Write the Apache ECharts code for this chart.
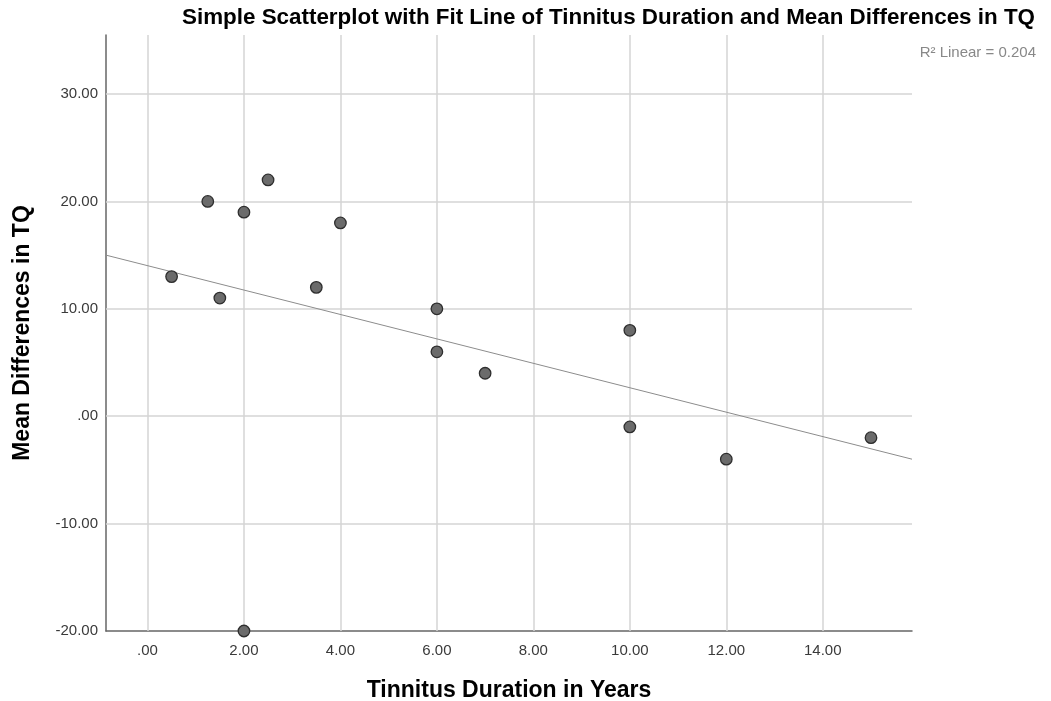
<!DOCTYPE html>
<html><head><meta charset="utf-8">
<script src="https://cdn.jsdelivr.net/npm/echarts@6/dist/echarts.min.js"></script>
<style>html,body{margin:0;padding:0;background:#fff}#c{width:1051px;height:701px}</style>
</head><body><div id="c"></div>
<script>
const durationYears = [0.5, 1.25, 1.5, 2, 2.5, 2, 3.5, 4, 6, 6, 7, 10, 10, 12, 15];
const meanDiffTQ   = [13, 20, 11, 19, 22, -20, 12, 18, 10, 6, 4, 8, -1, -4, -2];
const fitLineX = [-0.86, 15.85];
const fitLineY = [15.0, -4.0];
const xTicks = [0, 2, 4, 6, 8, 10, 12, 14];
const yTicks = [-20, -10, 0, 10, 20, 30];
const titleText = 'Simple Scatterplot with Fit Line of Tinnitus Duration and Mean Differences in TQ';
const r2Text = 'R\u00B2 Linear = 0.204';

function fmt(v){
  let s = Math.abs(v).toFixed(2);
  if (s.startsWith('0.')) s = s.slice(1);
  return (v < 0 ? '-' : '') + s;
}
const font = 'Liberation Sans, Arial, sans-serif';
const chart = echarts.init(document.getElementById('c'));
const gridColor = '#d4d4d4';
chart.setOption({
  animation: false,
  title: [
    {text: titleText, left: 177, top: 2, textStyle:{fontFamily: font, fontSize: 22.4, fontWeight: 'bold', color:'#000'}},
    {text: r2Text, right: 10, top: 40, textStyle:{fontFamily: font, fontSize: 15, fontWeight: 'normal', color:'#888'}}
  ],
  grid: {left: 106, right: 139, top: 35, bottom: 70, outerBoundsMode: 'none', containLabel: false},
  xAxis: {
    type: 'value', min: -0.86, max: 15.85,
    name: 'Tinnitus Duration in Years', nameLocation: 'middle', nameGap: 48,
    nameTextStyle: {fontFamily: font, fontSize: 23, fontWeight: 'bold', color:'#000'},
    axisLine: {show: true, onZero: false, lineStyle: {color: '#666', width: 1.5}},
    axisTick: {show: false, customValues: xTicks},
    axisLabel: {customValues: xTicks, formatter: fmt, fontFamily: font, fontSize: 15, color: '#3a3a3a', margin: 12},
    splitLine: {show: false}
  },
  yAxis: {
    type: 'value', min: -20, max: 35.5,
    name: 'Mean Differences in TQ', nameLocation: 'middle', nameGap: 72, nameRotate: 90,
    nameTextStyle: {fontFamily: font, fontSize: 23, fontWeight: 'bold', color:'#000'},
    axisLine: {show: true, onZero: false, lineStyle: {color: '#666', width: 1.5}},
    axisTick: {show: false, customValues: yTicks},
    axisLabel: {customValues: yTicks, formatter: fmt, fontFamily: font, fontSize: 15, color: '#3a3a3a', margin: 8},
    splitLine: {show: false}
  },
  series: [
    {
      type: 'line', data: [], silent: true, z: 1,
      markLine: {
        z: 1, silent: true, symbol: 'none', label: {show: false}, animation: false,
        lineStyle: {color: gridColor, width: 1.5, type: 'solid'},
        data: xTicks.map(v => ({xAxis: v})).concat(yTicks.filter(v => v > -20).map(v => ({yAxis: v})))
      }
    },
    {
      type: 'line', z: 2, symbol: 'none', silent: true,
      data: fitLineX.map((x, i) => [x, fitLineY[i]]),
      lineStyle: {color: '#8c8c8c', width: 1}
    },
    {
      type: 'scatter', z: 3, symbolSize: 11.5,
      data: durationYears.map((x, i) => [x, meanDiffTQ[i]]),
      itemStyle: {color: '#6b6b6b', borderColor: '#2e2e2e', borderWidth: 1.3, opacity: 1}
    }
  ]
});
</script></body></html>
